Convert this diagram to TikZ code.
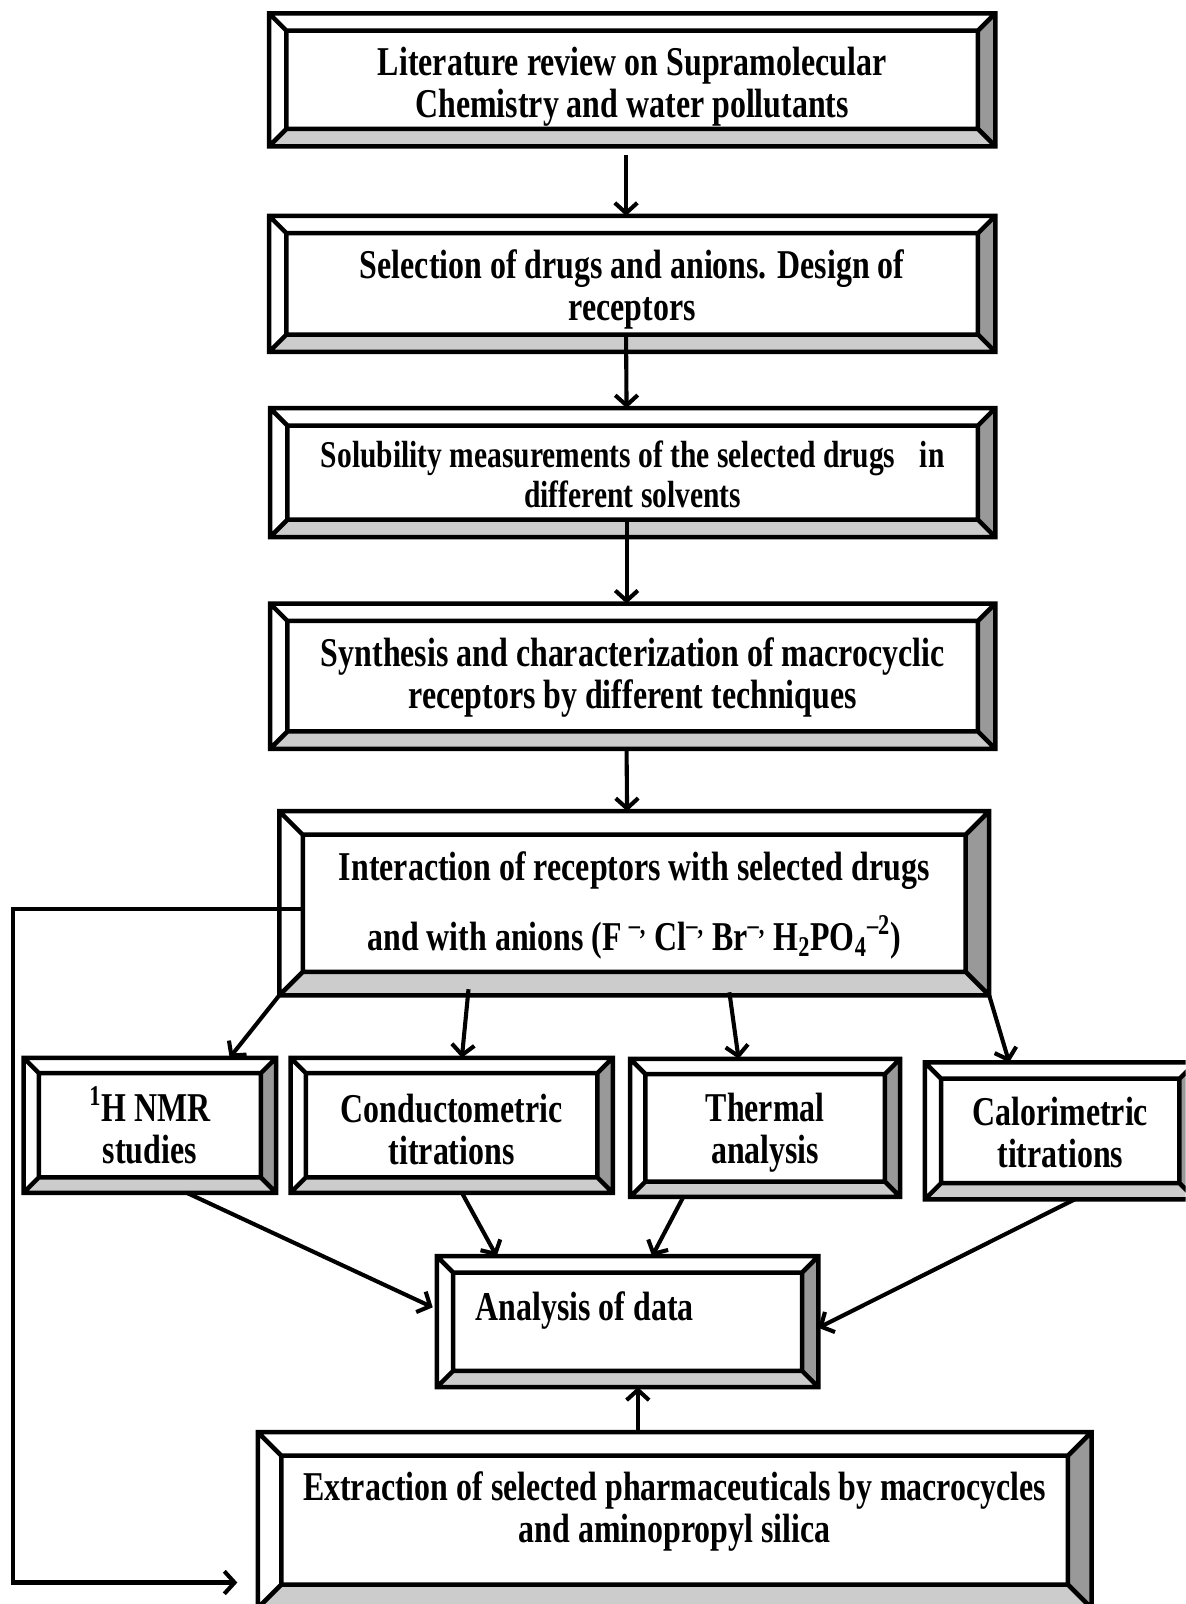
\documentclass[tikz,border=0pt]{standalone}
\usepackage{fontspec}
\setmainfont{Liberation Serif}[FakeStretch=0.78]
\usepackage{tikz}
\usetikzlibrary{arrows.meta}

% bevelled frame round a node: #1 = node name, #2 = bevel depth
\newcommand{\bevelframe}[2]{%
  \path (#1.north west) coordinate (#1-NW) ++(#2,#2) coordinate (#1-nw)
        (#1.north east) coordinate (#1-NE) ++(-#2,#2) coordinate (#1-ne)
        (#1.south east) coordinate (#1-SE) ++(-#2,-#2) coordinate (#1-se)
        (#1.south west) coordinate (#1-SW) ++(#2,-#2) coordinate (#1-sw);
  \fill[bevellight] (#1-SW) -- (#1-SE) -- (#1-se) -- (#1-sw) -- cycle;
  \fill[beveldark] (#1-NE) -- (#1-SE) -- (#1-se) -- (#1-ne) -- cycle;
  \draw[boxline] (#1-NW) rectangle (#1-SE) (#1-nw) rectangle (#1-se)
    (#1-NW) -- (#1-nw) (#1-NE) -- (#1-ne) (#1-SE) -- (#1-se) (#1-SW) -- (#1-sw);
}

\tikzset{
  stepbox/.style={rectangle, inner sep=0pt, outer sep=0pt, align=center,
    font=\fontsize{20}{20.5}\selectfont\bfseries, text depth=4.5pt},
  boxline/.style={line width=2.2pt},
  bevellight/.style={fill=black!20},
  beveldark/.style={fill=black!40},
  flow/.style={line width=2pt, -{Straight Barb[length=5pt,width=11pt]}}
}

\begin{document}
\begin{tikzpicture}[x=0.5pt,y=-0.5pt]
	\useasboundingbox (0,0) rectangle (1159,1568);
	\clip (0,0) rectangle (1159,1568);

	\node[stepbox, minimum width=355pt, minimum height=65pt, text height=41.5pt] (lit) at (618,78)
		{Literature review on Supramolecular\\Chemistry and water pollutants};
	\bevelframe{lit}{17}
	\node[stepbox, minimum width=355pt, minimum height=66.5pt, text height=40pt] (sel) at (618,277.5)
		{Selection of drugs and anions. Design of\\receptors};
	\bevelframe{sel}{17}
	\node[stepbox, minimum width=354.5pt, minimum height=63pt, text height=38.5pt,
		font=\fontsize{18.5}{19.5}\selectfont\bfseries] (sol) at (618.5,462)
		{Solubility measurements of the selected drugs\hspace{12pt}in\\different solvents};
	\bevelframe{sol}{17}
	\node[stepbox, minimum width=354.5pt, minimum height=71pt, text height=36.5pt] (syn) at (618.5,661)
		{Synthesis and characterization of macrocyclic\\receptors by different techniques};
	\bevelframe{syn}{17}
	\node[stepbox, minimum width=347pt, minimum height=90pt, text height=50.5pt,
		font=\fontsize{20}{34}\selectfont\bfseries] (inter) at (620,883)
		{Interaction of receptors with selected drugs\\
		 and with anions (F\,\textsuperscript{--,} Cl\textsuperscript{--,} Br\textsuperscript{--,} H\textsubscript{2}PO\textsubscript{4}\textsuperscript{--2})};
	\bevelframe{inter}{23}

	\node[stepbox, minimum width=123.5pt, minimum height=66pt, text height=41.5pt] (nmr) at (146.5,1100)
		{\textsuperscript{1}H NMR\\studies};
	\bevelframe{nmr}{15}
	\node[stepbox, minimum width=157.5pt, minimum height=66pt, text height=42.5pt] (cond) at (441.5,1100)
		{Conductometric\\titrations};
	\bevelframe{cond}{15}
	\node[stepbox, minimum width=132pt, minimum height=67.5pt, text height=39pt] (therm) at (748,1102.5)
		{Thermal\\analysis};
	\bevelframe{therm}{15}
	\node[stepbox, minimum width=132.5pt, minimum height=67pt, text height=40pt] (cal) at (1036.5,1105.5)
		{Calorimetric\\titrations};
	\bevelframe{cal}{16}

	\node[stepbox, minimum width=186.5pt, minimum height=64pt, text height=14pt, text depth=15pt] (ana) at (613.5,1292)
		{\makebox[148.5pt][l]{Analysis of data}};
	\bevelframe{ana}{16}
	\node[stepbox, minimum width=407.5pt, minimum height=86pt, text height=26.5pt] (ext) at (659.5,1486)
		{Extraction of selected pharmaceuticals by macrocycles\\and aminopropyl silica};
	\bevelframe{ext}{23}

	\draw[flow] ([xshift=-3pt,yshift=-4.5pt]lit.south) -- ([xshift=-3pt]sel.north);
	\draw[flow] ([xshift=-3pt,yshift=8pt]sel.south) -- ([xshift=-3pt]sol.north);
	\draw[flow] ([xshift=-3pt,yshift=8.5pt]sol.south) -- ([xshift=-3pt]syn.north);
	\draw[flow] ([xshift=-3pt]syn.south) -- ([xshift=-3.5pt]inter.north);

	\draw[flow] (inter.south west) -- ([xshift=39pt]nmr.north);
	\draw[flow] ([xshift=-81pt,yshift=3pt]inter.south) -- ([xshift=5pt]cond.north);
	\draw[flow] ([xshift=46.5pt,yshift=1.5pt]inter.south) -- ([xshift=-13pt]therm.north);
	\draw[flow] (inter.south east) -- ([xshift=-25pt]cal.north);

	\draw[flow] ([xshift=18pt]nmr.south) -- ([xshift=-2pt,yshift=7pt]ana.west);
	\draw[flow] ([xshift=5pt]cond.south) -- ([xshift=-64pt]ana.north);
	\draw[flow] ([xshift=-40pt]therm.south) -- ([xshift=12pt]ana.north);
	\draw[flow] ([xshift=7pt]cal.south) -- ([yshift=-3pt]ana.east);
	\draw[flow] ([xshift=-18pt]ext.north) -- ([xshift=5pt]ana.south);

	\coordinate (fb) at (13,1200);
	\draw[flow] ([xshift=11.5pt,yshift=-3pt]inter.west) -| (fb)
		|- ([xshift=-10pt,yshift=-30.5pt]ext.west);
\end{tikzpicture}
\end{document}
